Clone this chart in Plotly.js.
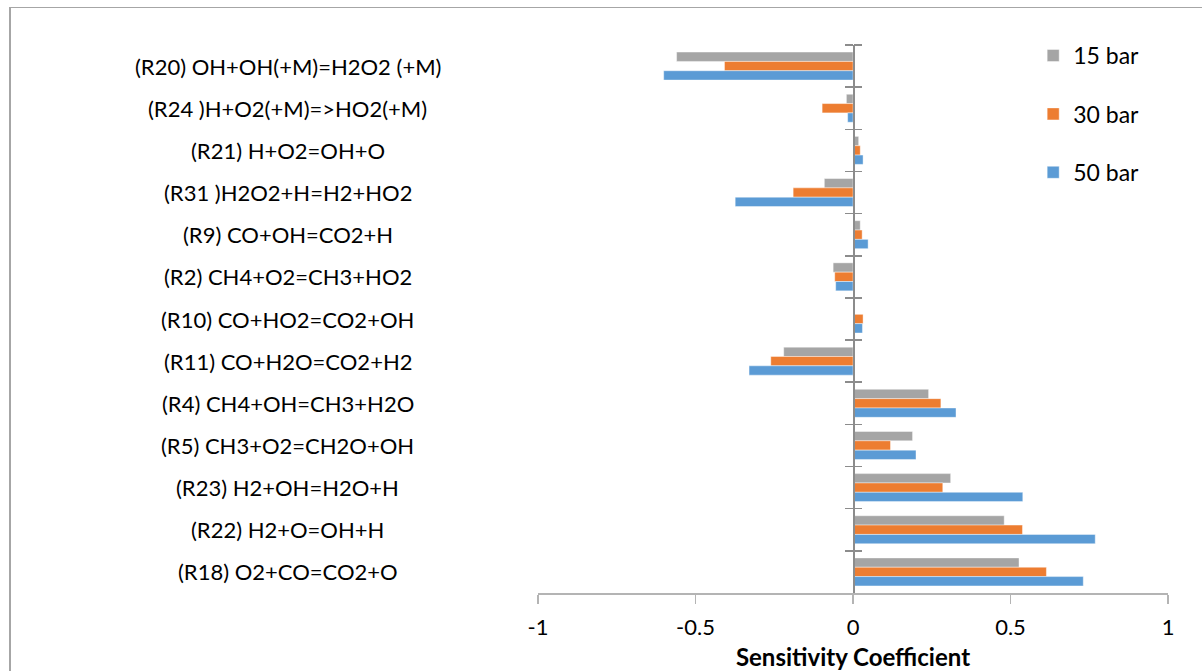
<!DOCTYPE html>
<html>
<head>
<meta charset="utf-8">
<script src="https://cdn.plot.ly/plotly-3.0.1.min.js"></script>
<style>
html,body{margin:0;padding:0;background:#fff;overflow:hidden;}
#wrap{position:relative;width:1202px;height:671px;}
#chart{position:absolute;left:0;top:0;width:1202px;height:671px;}
#frame{position:absolute;left:9px;top:7px;width:1200px;height:700px;border-left:2px solid #a6a6a6;border-top:1px solid #a6a6a6;pointer-events:none;}
</style>
</head>
<body>
<div id="wrap"><div id="chart"></div><div id="frame"></div></div>
<script>
const reactions = [
  "(R20) OH+OH(+M)=H2O2 (+M)",
  "(R24 )H+O2(+M)=>HO2(+M)",
  "(R21) H+O2=OH+O",
  "(R31 )H2O2+H=H2+HO2",
  "(R9) CO+OH=CO2+H",
  "(R2) CH4+O2=CH3+HO2",
  "(R10) CO+HO2=CO2+OH",
  "(R11) CO+H2O=CO2+H2",
  "(R4) CH4+OH=CH3+H2O",
  "(R5) CH3+O2=CH2O+OH",
  "(R23) H2+OH=H2O+H",
  "(R22) H2+O=OH+H",
  "(R18) O2+CO=CO2+O"
];
const seriesNames = ["15 bar", "30 bar", "50 bar"];
const bar15 = [-0.560, -0.021, 0.018, -0.091, 0.023, -0.063, 0.003, -0.220, 0.240, 0.189, 0.310, 0.480, 0.527];
const bar30 = [-0.408, -0.098, 0.023, -0.190, 0.029, -0.058, 0.032, -0.261, 0.279, 0.119, 0.285, 0.538, 0.614];
const bar50 = [-0.601, -0.017, 0.032, -0.374, 0.048, -0.055, 0.030, -0.330, 0.327, 0.200, 0.539, 0.769, 0.731];
const xTicks = [-1, -0.5, 0, 0.5, 1];

const colors = ["#a5a5a5", "#ed7d31", "#5b9bd5"];
const allSeries = [bar15, bar30, bar50];
const FONT = "Lato, 'Open Sans', sans-serif";

const traces = allSeries.map((vals, i) => ({
  type: "bar",
  orientation: "h",
  name: seriesNames[i],
  x: vals,
  y: reactions,
  legendgroup: "g" + i,
  marker: {color: colors[i], line: {color: "rgba(255,255,255,0.7)", width: 0.6}},
  hoverinfo: "x+name"
}));

const annotations = reactions.map(r => ({
  text: r, xref: "paper", yref: "y", x: -0.397, y: r,
  xanchor: "center", yanchor: "middle", showarrow: false,
  font: {family: FONT, size: 22, color: "#000"}
}));

const layout = {
  width: 1202, height: 671,
  margin: {l: 538, r: 34, t: 45, b: 78},
  paper_bgcolor: "#fff", plot_bgcolor: "#fff",
  barmode: "group", bargap: 0.336, bargroupgap: 0,
  showlegend: true,
  legend: {x: 0.786, xanchor: "left", y: 1.02, yanchor: "top",
           font: {family: FONT, size: 23, color: "#000"},
           tracegroupgap: 25.5, bgcolor: "rgba(0,0,0,0)"},
  xaxis: {
    range: [-1, 1], tickvals: xTicks, ticktext: xTicks.map(String),
    showgrid: false, zeroline: false,
    showline: true, linecolor: "#b4b4b4", linewidth: 1.5,
    ticks: "outside", ticklen: 9, tickcolor: "#b4b4b4", tickwidth: 1.5,
    ticklabelstandoff: 5,
    tickfont: {family: FONT, size: 22, color: "#000"},
    title: {text: "<b>Sensitivity Coefficient</b>", standoff: 12,
            font: {family: FONT, size: 24, color: "#000"}},
    fixedrange: true
  },
  yaxis: {
    type: "category", categoryarray: reactions, categoryorder: "array",
    range: [reactions.length - 0.5, -0.5],
    anchor: "free", position: 0.5,
    showgrid: false, zeroline: false, showticklabels: false,
    showline: true, linecolor: "#8c8c8c", linewidth: 1.5,
    ticks: "outside", tickson: "boundaries", ticklen: 8, tickcolor: "#8c8c8c", tickwidth: 1.5,
    fixedrange: true
  },
  yaxis2: {
    type: "category", categoryarray: reactions, categoryorder: "array",
    range: [reactions.length - 0.5, -0.5],
    overlaying: "y", side: "right", anchor: "free", position: 0.5,
    showgrid: false, zeroline: false, showticklabels: false, showline: false,
    ticks: "outside", tickson: "boundaries", ticklen: 8, tickcolor: "#8c8c8c", tickwidth: 1.5,
    fixedrange: true
  },
  annotations: annotations
};

traces.push({type: "bar", orientation: "h", x: reactions.map(() => 0), y: reactions,
  yaxis: "y2", showlegend: false, hoverinfo: "skip", marker: {color: "rgba(0,0,0,0)"}});

Plotly.newPlot("chart", traces, layout, {displayModeBar: false, staticPlot: true});
</script>
</body>
</html>
